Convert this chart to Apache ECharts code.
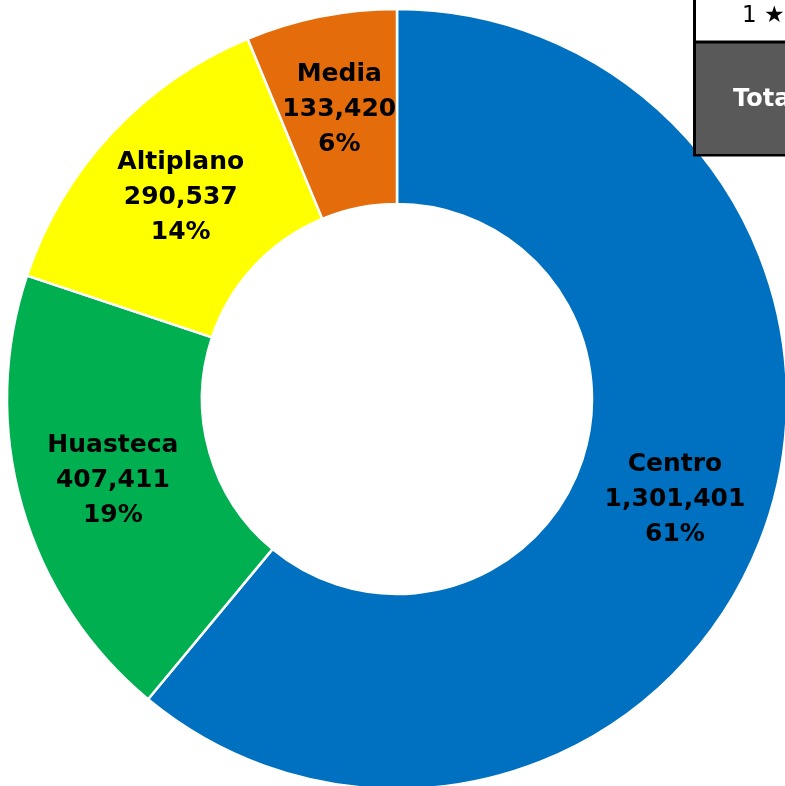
<!DOCTYPE html>
<html>
<head>
<meta charset="utf-8">
<script src="https://cdn.jsdelivr.net/npm/echarts@6/dist/echarts.min.js"></script>
<style>
  html, body { margin: 0; padding: 0; background: #fff; }
  #chart { width: 785px; height: 786px; }
</style>
</head>
<body>
<div id="chart"></div>
<script>
// regiones y poblacion
var regions = ["Centro", "Huasteca", "Altiplano", "Media"];
var values = [1301401, 407411, 290537, 133420];
var colors = ["#0070C0", "#00B050", "#FFFF00", "#E46C0A"];
// fragmento de tabla arriba a la derecha
var tableTexts = ["1 \u2605", "Tota"];

var chart = echarts.init(document.getElementById("chart"));

var data = regions.map(function (name, i) {
  return { name: name, value: values[i], itemStyle: { color: colors[i] } };
});

chart.setOption({
  animation: false,
  series: [
    {
      type: "pie",
      center: [397, 399],
      radius: [195, 390],
      startAngle: 90,
      clockwise: true,
      data: data,
      itemStyle: { borderColor: "#fff", borderWidth: 2.5 },
      label: {
        position: "inside",
        fontFamily: "DejaVu Sans",
        fontWeight: "bold",
        fontSize: 25,
        lineHeight: 35,
        color: "#000",
        formatter: function (p) {
          return p.name + "\n" + p.value.toLocaleString("en-US") + "\n" + Math.round(p.percent) + "%";
        }
      },
      labelLine: { show: false }
    }
  ],
  graphic: [
    {
      type: "rect",
      shape: { x: 694.5, y: -5, width: 100, height: 160 },
      style: { fill: "#fff", stroke: "#000", lineWidth: 3 },
      z: 10
    },
    {
      type: "rect",
      shape: { x: 696, y: 43, width: 95, height: 111 },
      style: { fill: "#595959" },
      z: 11
    },
    {
      type: "line",
      shape: { x1: 694, y1: 42, x2: 790, y2: 42 },
      style: { stroke: "#000", lineWidth: 3 },
      z: 12
    },
    {
      type: "text",
      x: 742, y: 16,
      style: { text: tableTexts[0], fontFamily: "DejaVu Sans", fontSize: 23, fill: "#000", verticalAlign: "middle" },
      z: 12
    },
    {
      type: "text",
      x: 733, y: 100,
      style: { text: tableTexts[1], fontFamily: "DejaVu Sans", fontWeight: "bold", fontSize: 24, fill: "#fff", verticalAlign: "middle" },
      z: 12
    }
  ]
});
</script>
</body>
</html>
